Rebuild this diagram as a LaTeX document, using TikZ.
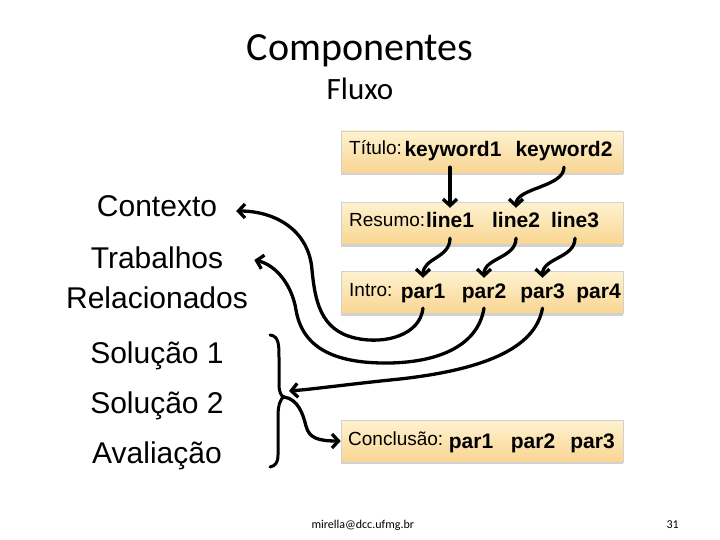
\documentclass[tikz,border=0pt]{standalone}
\usepackage{fontspec}
\setmainfont{Liberation Sans}
\newfontfamily\calibri{Carlito}
\usetikzlibrary{arrows.meta}
\usetikzlibrary{calc}
\usetikzlibrary{shadows}
\definecolor{boxtop}{RGB}{254,242,208}
\definecolor{boxbot}{RGB}{249,213,145}
\tikzset{
  secbox/.style={minimum width=282pt, minimum height=42pt, inner sep=0pt,
    top color=boxtop, bottom color=boxbot, draw=black!18, line width=0.6pt,
    drop shadow={shadow xshift=0pt, shadow yshift=-2pt, opacity=0.35}},
  tag/.style={anchor=base west, inner sep=0pt, font=\fontsize{19}{23}\selectfont},
  word/.style={anchor=base, inner sep=4pt, text height=16pt, text depth=6pt,
    font=\fontsize{21}{25}\selectfont\bfseries},
  part/.style={anchor=base, inner sep=0pt, font=\fontsize{30}{36}\selectfont},
  link/.style={line width=3.3pt, line cap=round,
    -{Straight Barb[length=6.5pt,width=14pt]}},
}
\begin{document}
\begin{tikzpicture}[x=1pt,y=-1pt]
\path[fill=white] (0,0) rectangle (720,540);
\useasboundingbox (0,0) rectangle (720,540);
% titles
\node[font=\calibri\fontsize{40}{48}\selectfont, anchor=base] (ttl) at (360,61) {Componentes};
\node[font=\calibri\fontsize{31}{36}\selectfont, anchor=base] (sub) at (360,100) {Fluxo};
% sections of the paper
\node[part] (ctx)  at (157,217) {Contexto};
\node[part] (trab) at (157,268) {Trabalhos};
\node[part] (rel)  at (157,308) {Relacionados};
\node[part] (sol1) at (157,363) {Solução 1};
\node[part] (sol2) at (157,413) {Solução 2};
\node[part] (aval) at (157,463) {Avaliação};
% boxes
\node[secbox] (titulo) at (482,152) {};
\node[secbox] (resumo) at (482,223.5) {};
\node[secbox] (intro)  at (482,292.5) {};
\node[secbox] (concl)  at (482,441) {};
\node[tag] (tt) at (349,155) {Título:};
\node[word] (t1) at (453,157) {keyword1};
\node[word] (t2) at (564,157) {keyword2};
\node[tag] (rt) at (349,226) {Resumo:};
\node[word] (r1) at (450,228) {line1};
\node[word] (r2) at (516,228) {line2};
\node[word] (r3) at (575,228) {line3};
\node[tag] (it) at (349,296) {Intro:};
\node[word] (i1) at (423,298) {par1};
\node[word] (i2) at (484,298) {par2};
\node[word] (i3) at (542.5,298) {par3};
\node[word] (i4) at (598.5,298) {par4};
\node[tag] (ct) at (348,445) {Conclusão:};
\node[word] (c1) at (471,448) {par1};
\node[word] (c2) at (533,448) {par2};
\node[word] (c3) at (592.5,448) {par3};
% brace
\coordinate (brc) at (284,397);
\draw[line width=3pt, line cap=round] (270,335) .. controls (279,336) and (279,345) .. (279,358)
   -- (279,384) .. controls (279,392) and (281,396) .. (brc)
   .. controls (281,398) and (278,404) .. (278,416)
   -- (278,455) .. controls (278,463) and (275,466) .. (270,467);
% links
\draw[link] (r1.north |- t1.south) -- (r1.north);
\foreach \a/\b in {t2/r2, r1/i1, r2/i2, r3/i3}
  \draw[link] (\a.south) .. controls +(0,20) and +(0,-20) .. (\b.north);
\draw[link] (i1.south) .. controls (420,335) and (385,345) .. (355,338)
   .. controls (320,330) and (315,300) .. (312,270)
   .. controls (309,230) and (275,211) .. ($(ctx.base east)+(19,-6)$);
\draw[link] (i2.south) .. controls (478,345) and (440,362) .. (390,363)
   .. controls (330,364) and (302,345) .. (296,310)
   .. controls (292,285) and (276,265) .. ($(trab.base east)+(31,-8)$);
\draw[link] (i3.south) .. controls (535,350) and (480,370) .. (400,379)
   .. controls (350,384) and (315,389) .. ($(brc)+(5,-6)$);
\draw[link] (brc) .. controls (298,399) and (303,414) .. (306,426)
   .. controls (309,438) and (318,441) .. (concl.west);
% footer
\node[font=\calibri\fontsize{12}{14}\selectfont, anchor=base west] (mail) at (308,528) {mirella@dcc.ufmg.br};
\node[font=\calibri\fontsize{12}{14}\selectfont, anchor=base west] (pg) at (663,528) {31};
\end{tikzpicture}
\end{document}
